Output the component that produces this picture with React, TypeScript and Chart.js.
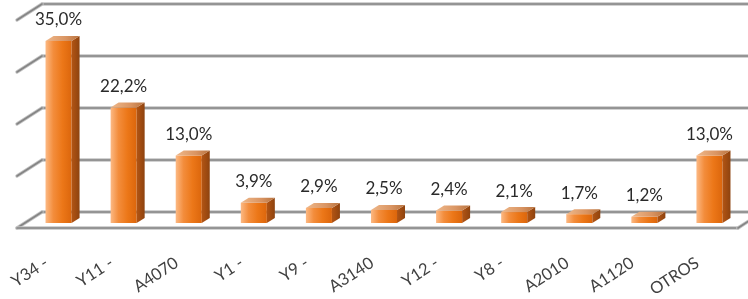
import React, { useEffect, useRef } from "react";
import { Chart, registerables } from "chart.js";

Chart.register(...registerables);

const categories = ["Y34 -", "Y11 -", "A4070", "Y1 -", "Y9 -", "A3140", "Y12 -", "Y8 -", "A2010", "A1120", "OTROS"];
const values = [35.0, 22.2, 13.0, 3.9, 2.9, 2.5, 2.4, 2.1, 1.7, 1.2, 13.0];
const gridValues = [0, 10, 20, 30, 40];

const FONT = "Lato, 'Open Sans', sans-serif";
const DEPTH_X = 8;
const DEPTH_Y = -5;
const WALL_DX = 16;
const WALL_DY = -11;
const FLOOR_DX = -25;
const FLOOR_DY = 16;

function fmt(v: number) {
  return v.toFixed(1).replace(".", ",") + "%";
}

const threeD = {
  id: "threeD",
  beforeDatasetsDraw(chart: any) {
    const { ctx, chartArea, scales, width } = chart;
    const y = scales.y;
    const wallLeft = chartArea.left + WALL_DX;
    ctx.save();
    ctx.lineCap = "round";
    const line = (x1: number, y1: number, x2: number, y2: number) => {
      ctx.strokeStyle = "#c4c4c4";
      ctx.lineWidth = 3.4;
      ctx.beginPath();
      ctx.moveTo(x1, y1);
      ctx.lineTo(x2, y2);
      ctx.stroke();
      ctx.strokeStyle = "#858585";
      ctx.lineWidth = 1.7;
      ctx.beginPath();
      ctx.moveTo(x1, y1);
      ctx.lineTo(x2, y2);
      ctx.stroke();
    };
    gridValues.forEach((v) => {
      const yb = y.getPixelForValue(v) + WALL_DY;
      line(wallLeft, yb, width + 2, yb);
      line(wallLeft, yb, wallLeft + FLOOR_DX, yb + FLOOR_DY);
    });
    const yb0 = y.getPixelForValue(0) + WALL_DY;
    const yf = yb0 + FLOOR_DY;
    const frontRight = chartArea.right - 4;
    line(wallLeft + FLOOR_DX, yf, frontRight, yf);
    line(frontRight, yf, frontRight - FLOOR_DX, yb0);
    ctx.restore();
  },
  afterDatasetsDraw(chart: any) {
    const { ctx } = chart;
    const meta = chart.getDatasetMeta(0);
    ctx.save();
    meta.data.forEach((bar: any, i: number) => {
      const { x, y, base, width } = bar.getProps(["x", "y", "base", "width"], true);
      const l = x - width / 2;
      const r = x + width / 2;
      const sg = ctx.createLinearGradient(r, 0, r + DEPTH_X, 0);
      sg.addColorStop(0, "#b35514");
      sg.addColorStop(1, "#8e430f");
      ctx.fillStyle = sg;
      ctx.beginPath();
      ctx.moveTo(r, y);
      ctx.lineTo(r + DEPTH_X, y + DEPTH_Y);
      ctx.lineTo(r + DEPTH_X, base + DEPTH_Y);
      ctx.lineTo(r, base);
      ctx.closePath();
      ctx.fill();
      const tg = ctx.createLinearGradient(l, 0, r + DEPTH_X, 0);
      tg.addColorStop(0, "#efb88a");
      tg.addColorStop(0.6, "#d99462");
      tg.addColorStop(1, "#b8733f");
      ctx.fillStyle = tg;
      ctx.beginPath();
      ctx.moveTo(l, y);
      ctx.lineTo(l + DEPTH_X, y + DEPTH_Y);
      ctx.lineTo(r + DEPTH_X, y + DEPTH_Y);
      ctx.lineTo(r, y);
      ctx.closePath();
      ctx.fill();
      ctx.fillStyle = "#2a2a2a";
      ctx.font = "17px " + FONT;
      ctx.textAlign = "center";
      ctx.textBaseline = "middle";
      ctx.fillText(fmt(values[i]), x, y - 21);
    });
    ctx.restore();
  },
};

export default function App() {
  const ref = useRef<HTMLCanvasElement | null>(null);
  useEffect(() => {
    if (!ref.current) return;
    const chart = new Chart(ref.current, {
      type: "bar",
      data: {
        labels: categories,
        datasets: [
          {
            data: values,
            barPercentage: 0.4,
            categoryPercentage: 1,
            borderWidth: 0,
            backgroundColor: (c: any) => {
              const ch = c.chart;
              const xs = ch.scales && ch.scales.x;
              if (!xs || c.dataIndex === undefined) return "#ee7d22";
              const cx = xs.getPixelForValue(c.dataIndex);
              const w = (xs.width / categories.length) * 0.4;
              if (!isFinite(cx) || !isFinite(w) || w <= 0) return "#ee7d22";
              const g = ch.ctx.createLinearGradient(cx - w / 2, 0, cx + w / 2, 0);
              g.addColorStop(0, "#fcb984");
              g.addColorStop(0.3, "#f38d3c");
              g.addColorStop(0.65, "#ec7718");
              g.addColorStop(1, "#dc660c");
              return g;
            },
          },
        ],
      },
      options: {
        responsive: false,
        animation: false,
        layout: { padding: { left: 26, right: 6, top: 15, bottom: 0 } },
        plugins: { legend: { display: false }, tooltip: { enabled: false } },
        scales: {
          y: { display: false, min: 0, max: 40 },
          x: {
            grid: { display: false, drawTicks: false },
            border: { display: false },
            afterFit: (s: any) => {
              s.height = 76;
              s.paddingLeft = 0;
              s.paddingRight = 0;
            },
            ticks: {
              autoSkip: false,
              minRotation: 33,
              maxRotation: 33,
              padding: 30,
              labelOffset: -12,
              color: "#404040",
              font: { family: FONT, size: 16.5 },
            },
          },
        },
      },
      plugins: [threeD],
    });
    return () => chart.destroy();
  }, []);
  return (
    <div style={{ position: "fixed", left: 0, top: 0, width: 748, height: 299, background: "#fff" }}>
      <canvas ref={ref} width={748} height={299} />
    </div>
  );
}
